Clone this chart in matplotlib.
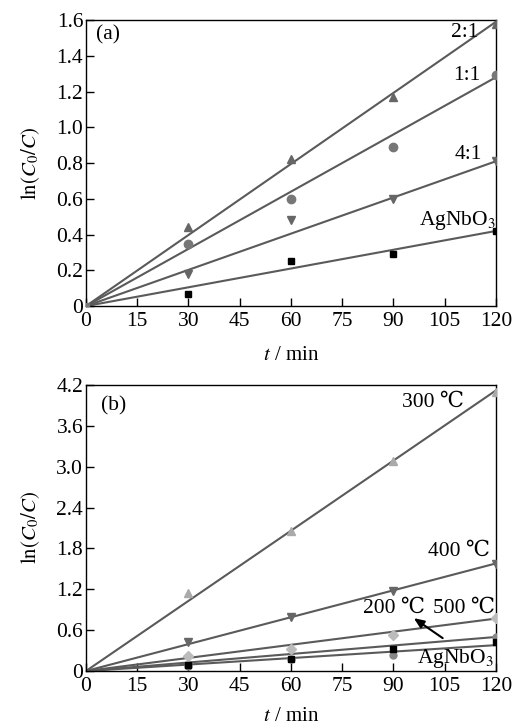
import numpy as np
import matplotlib
matplotlib.use("Agg")
import matplotlib.pyplot as plt

plt.rcParams["font.family"] = ["Liberation Serif", "DejaVu Serif", "Noto Sans CJK SC"]
plt.rcParams["mathtext.fontset"] = "stix"

# ── Données ──
t = [30, 60, 90, 120]

# (a) rapports molaires
a_21 = [0.44, 0.82, 1.17, 1.58]
a_11 = [0.35, 0.60, 0.89, 1.29]
a_41 = [0.18, 0.48, 0.60, 0.81]
a_ag = [0.065, 0.25, 0.29, 0.42]
# valeur de la droite ajustée à t = 120 min
a_fit_end = [1.59, 1.28, 0.81, 0.42]

# (b) températures de calcination
b_300 = [1.15, 2.05, 3.08, 4.10]
b_400 = [0.42, 0.80, 1.18, 1.57]
b_500 = [0.22, 0.33, 0.53, 0.78]
b_200 = [0.07, 0.17, 0.23, 0.50]
b_ag = [0.09, 0.18, 0.33, 0.42]
b_fit_end = [4.12, 1.58, 0.77, 0.50, 0.38]

xticks = [0, 15, 30, 45, 60, 75, 90, 105, 120]
a_yticks = [0, 0.2, 0.4, 0.6, 0.8, 1.0, 1.2, 1.4, 1.6]
a_ylabels = ["0", "0.2", "0.4", "0.6", "0.8", "1.0", "1.2", "1.4", "1.6"]
b_yticks = [0, 0.6, 1.2, 1.8, 2.4, 3.0, 3.6, 4.2]
b_ylabels = ["0", "0.6", "1.2", "1.8", "2.4", "3.0", "3.6", "4.2"]

LINE = "#5a5a5a"
FS = 15.5


def style_axes(ax, yticks, ylabels, ymax, xpad):
    ax.set_xlim(0, 120)
    ax.set_ylim(0, ymax)
    ax.set_xticks(xticks)
    ax.set_xticklabels([str(v) for v in xticks])
    ax.set_yticks(yticks)
    ax.set_yticklabels(ylabels)
    ax.tick_params(direction="in", length=6, width=1, labelsize=FS,
                   top=False, right=False, pad=2)
    ax.tick_params(axis="x", pad=4)
    for s in ax.spines.values():
        s.set_linewidth(1.0)
    ax.set_xlabel(r"$t$ / min", fontsize=FS - 0.5, labelpad=xpad)
    ax.set_ylabel(r"$\mathrm{ln}(C_0/C)$", fontsize=FS - 0.5, labelpad=10)


def fit_line(ax, end):
    x = np.array([0, 120])
    ax.plot(x, end * x / 120, color=LINE, lw=1.5, zorder=2)


fig = plt.figure(figsize=(5.13, 7.27), dpi=100)

# ── (a) ──
ax1 = fig.add_axes([0.1676, 0.579, 0.799, 0.3934])
for end in a_fit_end:
    fit_line(ax1, end)
ax1.plot(t, a_21, "^", color="#666666", ms=6, zorder=3)
ax1.plot(t, a_11, "o", color="#777777", ms=6, zorder=3)
ax1.plot(t, a_41, "v", color="#666666", ms=6, zorder=3)
ax1.plot(t, a_ag, "s", color="black", ms=5, zorder=3)
ax1.plot([0], [0], "s", color="#777777", ms=5, zorder=3)
style_axes(ax1, a_yticks, a_ylabels, 1.6, 11)
ax1.text(3, 1.49, "(a)", fontsize=FS)
ax1.text(107, 1.53, "2:1", fontsize=FS, va="center")
ax1.text(107.5, 1.29, "1:1", fontsize=FS, va="center")
ax1.text(108, 0.85, "4:1", fontsize=FS, va="center")
ax1.text(97.5, 0.48, r"AgNbO$_3$", fontsize=FS, va="center")

# ── (b) ──
ax2 = fig.add_axes([0.1676, 0.077, 0.799, 0.3934])
for end in b_fit_end:
    fit_line(ax2, end)
ax2.plot(t, b_300, "^", color="#aaaaaa", ms=6, zorder=3)
ax2.plot(t, b_400, "v", color="#666666", ms=6, zorder=3)
ax2.plot(t, b_500, "D", color="#bbbbbb", ms=5, zorder=3)
ax2.plot(t, b_200, "o", color="#888888", ms=5, zorder=3)
ax2.plot(t, b_ag, "s", color="black", ms=4.5, zorder=3)
style_axes(ax2, b_yticks, b_ylabels, 4.2, 8)
ax2.text(4.5, 3.82, "(b)", fontsize=FS)
ax2.text(92.5, 3.95, "300 ℃", fontsize=FS, va="center")
ax2.text(100, 1.76, "400 ℃", fontsize=FS, va="center")
ax2.text(81, 0.92, "200 ℃", fontsize=FS, va="center")
ax2.text(101.5, 0.92, "500 ℃", fontsize=FS, va="center")
ax2.text(119.5, 0.19, r"AgNbO$_3$", fontsize=FS, va="center", ha="right")
ax2.annotate("", xy=(95.3, 0.80), xytext=(105.1, 0.46),
             arrowprops=dict(arrowstyle="-|>,head_length=0.6,head_width=0.25",
                             color="black", lw=1.5))

fig.savefig("out.png", dpi=100)
